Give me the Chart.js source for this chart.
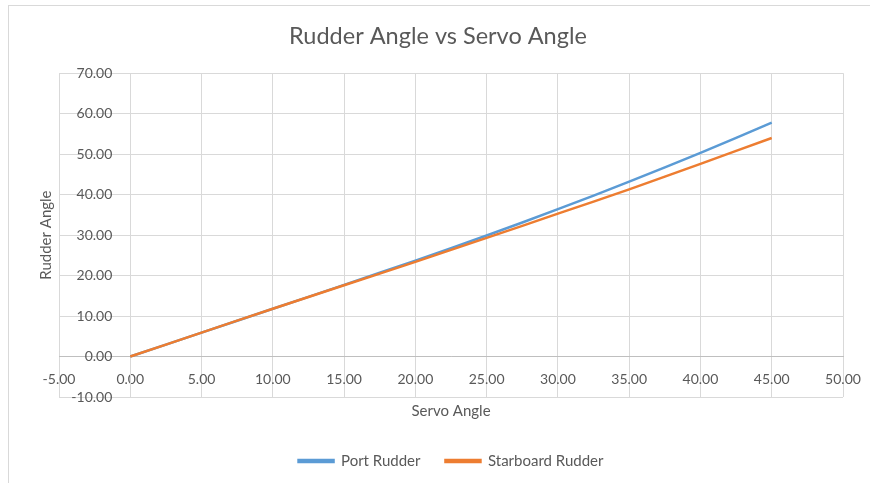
<!DOCTYPE html>
<html>
<head>
<meta charset="utf-8">
<script src="https://cdn.jsdelivr.net/npm/chart.js@4.4.0/dist/chart.umd.min.js"></script>
<style>
  html, body { margin: 0; padding: 0; background: #fff; }
  #wrap { position: relative; width: 870px; height: 483px; }
  #frame { position: absolute; left: 8px; top: 5px; right: 0; bottom: 0;
           border-top: 1px solid #d9d9d9; border-left: 1px solid #d9d9d9; }
  canvas { position: absolute; left: 0; top: 0; }
</style>
</head>
<body>
<div id="wrap"><div id="frame"></div><canvas id="graficaRudder" width="870" height="483"></canvas></div>
<script>
// datos
const servoAngles = [0, 5, 10, 15, 20, 25, 30, 35, 40, 45];
const portRudder = [0, 5.9, 11.8, 17.7, 23.7, 29.9, 36.4, 43.2, 50.3, 57.8];
const starboardRudder = [0, 5.9, 11.8, 17.6, 23.4, 29.3, 35.3, 41.3, 47.6, 54.0];
const xTickValues = [-5, 0, 5, 10, 15, 20, 25, 30, 35, 40, 45, 50];
const yTickValues = [-10, 0, 10, 20, 30, 40, 50, 60, 70];

(function() {
    const textColor = '#595959';
    const gridColor = '#d9d9d9';
    const fontFamily = 'Lato, "Open Sans", sans-serif';

    const toPoints = (ys) => servoAngles.map((x, i) => ({ x: x, y: ys[i] }));
    const fmt = (v) => Number(v).toFixed(2);

    const renderChart = () => {
        const ctx = document.getElementById('graficaRudder');

        new Chart(ctx, {
            type: 'line',
            data: {
                datasets: [{
                    label: 'Port Rudder',
                    data: toPoints(portRudder),
                    borderColor: '#5b9bd5',
                    backgroundColor: '#5b9bd5',
                    borderWidth: 2.5,
                    pointRadius: 0,
                    tension: 0.3,
                    order: 1
                }, {
                    label: 'Starboard Rudder',
                    data: toPoints(starboardRudder),
                    borderColor: '#ed7d31',
                    backgroundColor: '#ed7d31',
                    borderWidth: 2.5,
                    pointRadius: 0,
                    tension: 0.3,
                    order: 0
                }]
            },
            options: {
                responsive: false,
                animation: false,
                devicePixelRatio: 1,
                layout: { padding: { top: 0, left: 33, right: 27, bottom: 4.5 } },
                plugins: {
                    title: {
                        display: true,
                        text: 'Rudder Angle vs Servo Angle',
                        color: textColor,
                        font: { family: fontFamily, size: 23.5, weight: 'normal' },
                        padding: { top: 22, bottom: 23 }
                    },
                    legend: {
                        position: 'bottom',
                        fullSize: false,
                        labels: {
                            color: textColor,
                            font: { family: fontFamily, size: 15 },
                            boxWidth: 35,
                            boxHeight: 2,
                            padding: 25,
                            sort: (a, b) => a.datasetIndex - b.datasetIndex
                        }
                    },
                    tooltip: { enabled: false }
                },
                scales: {
                    x: {
                        type: 'linear',
                        position: { y: 0 },
                        min: -5,
                        max: 50,
                        afterBuildTicks: (s) => { s.ticks = xTickValues.map(v => ({ value: v })); },
                        afterFit: (s) => { s.paddingLeft = 0; s.paddingRight = 0; },
                        ticks: {
                            color: textColor,
                            font: { family: fontFamily, size: 14 },
                            padding: 15,
                            maxRotation: 0,
                            callback: fmt
                        },
                        grid: { color: gridColor, drawTicks: false },
                        border: { color: '#bfbfbf' }
                    },
                    y: {
                        type: 'linear',
                        position: { x: 0 },
                        min: -10,
                        max: 70,
                        afterBuildTicks: (s) => { s.ticks = yTickValues.map(v => ({ value: v })); },
                        ticks: {
                            color: textColor,
                            font: { family: fontFamily, size: 14 },
                            callback: (v) => fmt(v) + '     '
                        },
                        grid: { color: gridColor, drawTicks: false },
                        border: { color: gridColor }
                    },
                    xTitle: {
                        type: 'linear',
                        position: 'bottom',
                        ticks: { display: false },
                        grid: { display: false, drawTicks: false },
                        border: { display: false },
                        title: {
                            display: true,
                            text: 'Servo Angle',
                            color: textColor,
                            font: { family: fontFamily, size: 15 },
                            padding: { top: 5, bottom: 8.5 }
                        }
                    },
                    yTitle: {
                        type: 'linear',
                        position: 'left',
                        ticks: { display: false },
                        grid: { display: false, drawTicks: false },
                        border: { display: false },
                        title: {
                            display: true,
                            text: 'Rudder Angle',
                            color: textColor,
                            font: { family: fontFamily, size: 15 },
                            padding: { top: 4, bottom: 4 }
                        }
                    }
                }
            }
        });
    };

    if (document.readyState === 'complete') {
        renderChart();
    } else {
        window.addEventListener('load', renderChart);
    }
})();
</script>
</body>
</html>
